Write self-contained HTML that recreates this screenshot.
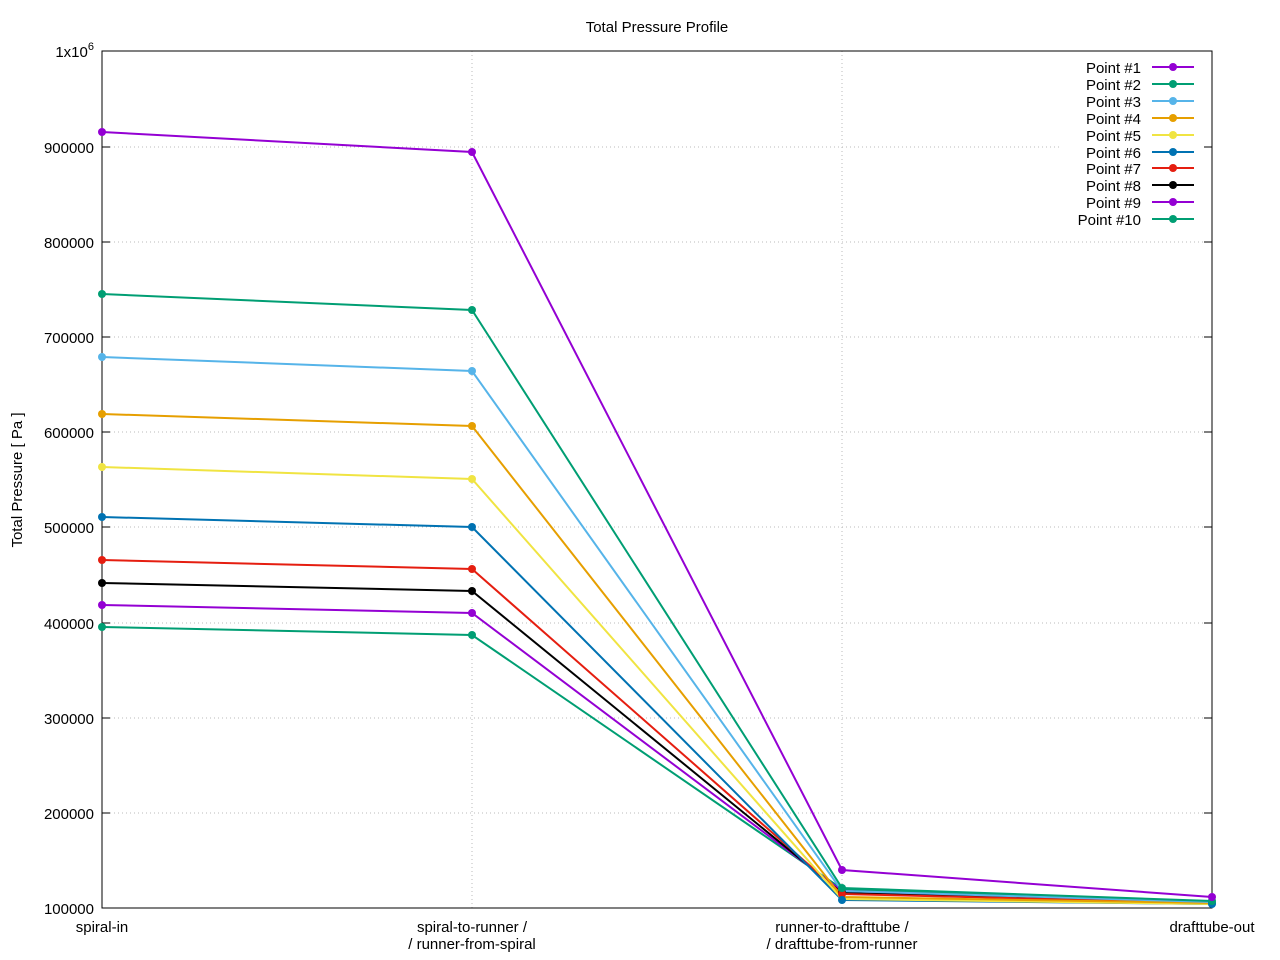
<!DOCTYPE html>
<html><head><style>body{margin:0;background:#fff}svg{display:block;font-family:"Liberation Sans",sans-serif}</style></head><body>
<svg width="1280" height="960" viewBox="0 0 1280 960" xmlns="http://www.w3.org/2000/svg">
<rect width="1280" height="960" fill="#fff"/>
<g stroke="#bbb" stroke-width="1" stroke-dasharray="1,3">
<line x1="102" x2="1212" y1="813" y2="813"/><line x1="102" x2="1212" y1="718" y2="718"/><line x1="102" x2="1212" y1="623" y2="623"/><line x1="102" x2="1212" y1="527" y2="527"/><line x1="102" x2="1212" y1="432" y2="432"/><line x1="102" x2="1212" y1="337" y2="337"/><line x1="102" x2="1212" y1="242" y2="242"/><line x1="102" x2="1060" y1="147" y2="147"/>
<line x1="472" x2="472" y1="51" y2="908"/><line x1="842" x2="842" y1="51" y2="908"/>
</g>
<rect x="102" y="51" width="1110" height="857" fill="none" stroke="#000" stroke-width="1"/>
<g stroke="#000"><line x1="102" x2="110" y1="813" y2="813"/><line x1="102" x2="110" y1="718" y2="718"/><line x1="102" x2="110" y1="623" y2="623"/><line x1="102" x2="110" y1="527" y2="527"/><line x1="102" x2="110" y1="432" y2="432"/><line x1="102" x2="110" y1="337" y2="337"/><line x1="102" x2="110" y1="242" y2="242"/><line x1="102" x2="110" y1="147" y2="147"/>
<line x1="1204" x2="1212" y1="813" y2="813"/><line x1="1204" x2="1212" y1="718" y2="718"/><line x1="1204" x2="1212" y1="623" y2="623"/><line x1="1204" x2="1212" y1="527" y2="527"/><line x1="1204" x2="1212" y1="432" y2="432"/><line x1="1204" x2="1212" y1="337" y2="337"/><line x1="1204" x2="1212" y1="242" y2="242"/><line x1="1204" x2="1212" y1="147" y2="147"/></g>
<g font-size="15" fill="#000" text-anchor="end">
<text x="94" y="914">100000</text><text x="94" y="819">200000</text><text x="94" y="724">300000</text><text x="94" y="629">400000</text><text x="94" y="533">500000</text><text x="94" y="438">600000</text><text x="94" y="343">700000</text><text x="94" y="248">800000</text><text x="94" y="153">900000</text><text x="94" y="57">1x10<tspan font-size="11" dy="-7">6</tspan></text>
</g>
<g font-size="15" text-anchor="middle">
<text x="102" y="932">spiral-in</text><text x="472" y="932">spiral-to-runner /</text><text x="472" y="949">/ runner-from-spiral</text>
<text x="842" y="932">runner-to-drafttube /</text><text x="842" y="949">/ drafttube-from-runner</text><text x="1212" y="932">drafttube-out</text>
<text x="657" y="32">Total Pressure Profile</text>
</g>
<text font-size="15" text-anchor="middle" transform="translate(22,480) rotate(-90)">Total Pressure [ Pa ]</text>
<g fill="none" stroke-width="2">
<polyline stroke="#009e73" points="102,627 472,635 842,889 1212,903"/>
<polyline stroke="#9400d3" points="102,605 472,613 842,891 1212,903"/>
<polyline stroke="#000" points="102,583 472,591 842,893 1212,903"/>
<polyline stroke="#e51e10" points="102,560 472,569 842,894 1212,903"/>
<polyline stroke="#0072b2" points="102,517 472,527 842,900 1212,904"/>
<polyline stroke="#f0e442" points="102,467 472,479 842,899 1212,904"/>
<polyline stroke="#e69f00" points="102,414 472,426 842,897 1212,903"/>
<polyline stroke="#56b4e9" points="102,357 472,371 842,891 1212,902"/>
<polyline stroke="#009e73" points="102,294 472,310 842,888 1212,901"/>
<polyline stroke="#9400d3" points="102,132 472,152 842,870 1212,897"/>
</g>
<g>
<g fill="#009e73"><circle cx="102" cy="627" r="4"/><circle cx="472" cy="635" r="4"/><circle cx="842" cy="889" r="4"/><circle cx="1212" cy="903" r="4"/></g>
<g fill="#9400d3"><circle cx="102" cy="605" r="4"/><circle cx="472" cy="613" r="4"/></g>
<g fill="#000"><circle cx="102" cy="583" r="4"/><circle cx="472" cy="591" r="4"/><circle cx="842" cy="893" r="4"/></g>
<g fill="#e51e10"><circle cx="102" cy="560" r="4"/><circle cx="472" cy="569" r="4"/><circle cx="842" cy="894" r="4"/></g>
<g fill="#0072b2"><circle cx="102" cy="517" r="4"/><circle cx="472" cy="527" r="4"/><circle cx="842" cy="900" r="4"/><circle cx="1212" cy="904" r="4"/></g>
<g fill="#f0e442"><circle cx="102" cy="467" r="4"/><circle cx="472" cy="479" r="4"/></g>
<g fill="#e69f00"><circle cx="102" cy="414" r="4"/><circle cx="472" cy="426" r="4"/></g>
<g fill="#56b4e9"><circle cx="102" cy="357" r="4"/><circle cx="472" cy="371" r="4"/></g>
<g fill="#009e73"><circle cx="102" cy="294" r="4"/><circle cx="472" cy="310" r="4"/><circle cx="842" cy="888" r="4"/><circle cx="1212" cy="901" r="4"/></g>
<g fill="#9400d3"><circle cx="102" cy="132" r="4"/><circle cx="472" cy="152" r="4"/><circle cx="842" cy="870" r="4"/><circle cx="1212" cy="897" r="4"/></g>
</g>
<g font-size="15" text-anchor="end" stroke-width="2">
<text x="1141" y="73">Point #1</text><line x1="1152" x2="1194" y1="67" y2="67" stroke="#9400d3"/><circle cx="1173" cy="67" r="4" fill="#9400d3"/>
<text x="1141" y="90">Point #2</text><line x1="1152" x2="1194" y1="84" y2="84" stroke="#009e73"/><circle cx="1173" cy="84" r="4" fill="#009e73"/>
<text x="1141" y="107">Point #3</text><line x1="1152" x2="1194" y1="101" y2="101" stroke="#56b4e9"/><circle cx="1173" cy="101" r="4" fill="#56b4e9"/>
<text x="1141" y="124">Point #4</text><line x1="1152" x2="1194" y1="118" y2="118" stroke="#e69f00"/><circle cx="1173" cy="118" r="4" fill="#e69f00"/>
<text x="1141" y="141">Point #5</text><line x1="1152" x2="1194" y1="135" y2="135" stroke="#f0e442"/><circle cx="1173" cy="135" r="4" fill="#f0e442"/>
<text x="1141" y="158">Point #6</text><line x1="1152" x2="1194" y1="152" y2="152" stroke="#0072b2"/><circle cx="1173" cy="152" r="4" fill="#0072b2"/>
<text x="1141" y="174">Point #7</text><line x1="1152" x2="1194" y1="168" y2="168" stroke="#e51e10"/><circle cx="1173" cy="168" r="4" fill="#e51e10"/>
<text x="1141" y="191">Point #8</text><line x1="1152" x2="1194" y1="185" y2="185" stroke="#000"/><circle cx="1173" cy="185" r="4" fill="#000"/>
<text x="1141" y="208">Point #9</text><line x1="1152" x2="1194" y1="202" y2="202" stroke="#9400d3"/><circle cx="1173" cy="202" r="4" fill="#9400d3"/>
<text x="1141" y="225">Point #10</text><line x1="1152" x2="1194" y1="219" y2="219" stroke="#009e73"/><circle cx="1173" cy="219" r="4" fill="#009e73"/>
</g>
</svg>
</body></html>
